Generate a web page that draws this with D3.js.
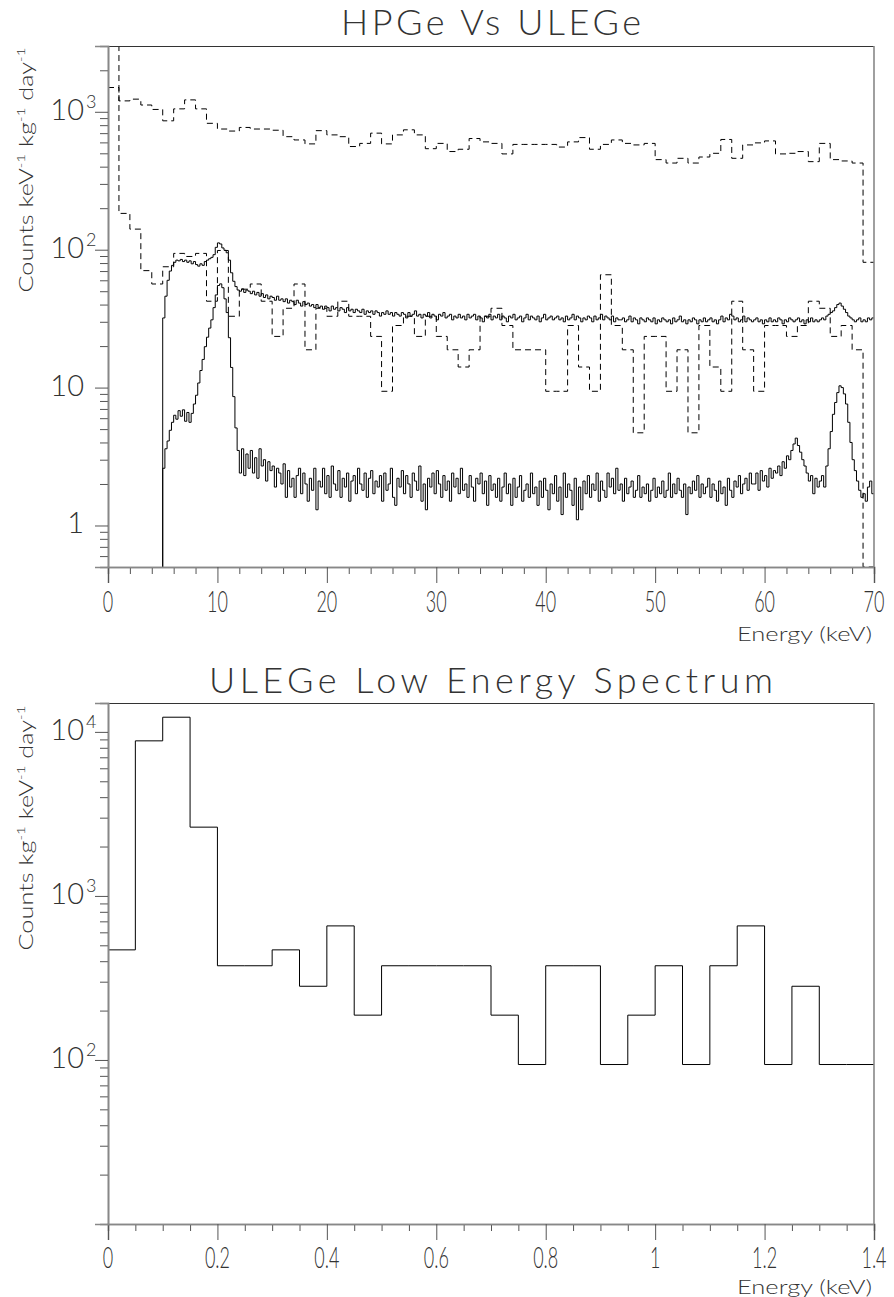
<!DOCTYPE html>
<html>
<head>
<meta charset="utf-8">
<script src="https://cdn.jsdelivr.net/npm/d3@7"></script>
<style>
  html, body { margin: 0; padding: 0; background: #fff; }
  svg { display: block; }
  text { font-family: "Lato", "DejaVu Sans", sans-serif; fill: #333; }
</style>
</head>
<body>
<svg id="chart" width="894" height="1297"></svg>
<script>
// ---------------- Data ----------------
// HPGe spectra, 1 keV bins starting at 0 keV (counts keV^-1 kg^-1 day^-1)
const coarseStart = 0, coarseWidth = 1;
const hpgeUpper = [
  1500, 1200, 1235, 1120, 1040, 860, 1050, 1220, 1050, 825,
  750, 725, 770, 750, 750, 735, 660, 625, 585, 730,
  680, 660, 560, 590, 700, 585, 680, 740, 680, 540,
  590, 515, 535, 640, 605, 590, 495, 580, 580, 580,
  580, 555, 605, 650, 535, 580, 625, 590, 575, 590,
  450, 425, 460, 425, 470, 500, 630, 460, 575, 595,
  615, 495, 500, 515, 435, 590, 450, 440, 425, 81
];
const hpgeLower = [
  5000, 183.3, 141, 70.5, 56.4, 75.2, 94, 89.3, 94, 42.3,
  98.7, 32.9, 51.7, 56.4, 42.3, 23.5, 37.6, 56.4, 18.8, 37.6,
  32.9, 42.3, 32.9, 32.9, 23.5, 9.4, 28.2, 32.9, 23.5, 32.9,
  23.5, 18.8, 14.1, 18.8, 32.9, 37.6, 28.2, 18.8, 18.8, 18.8,
  9.4, 9.4, 28.2, 14.1, 9.4, 65.8, 28.2, 18.8, 4.7, 23.5,
  23.5, 9.4, 18.8, 4.7, 28.2, 14.1, 9.4, 42.3, 18.8, 9.4,
  28.2, 28.2, 23.5, 28.2, 42.3, 37.6, 23.5, 28.2, 18.8, 0
];

// ULEGe spectra, 0.2 keV bins starting at 5 keV
const fineStart = 5, fineWidth = 0.2;
const ulegeUpper = [
  32, 46, 60, 70, 77, 81, 84, 83, 85, 82,
  84, 81, 83, 79, 82, 78, 76, 79, 77, 82,
  84, 86, 88, 92, 104, 112, 110, 103, 99, 95,
  84, 68, 59, 54, 51, 50, 52, 49, 51, 50,
  48, 50, 47, 49, 46, 48, 45, 47, 44, 46,
  45, 43, 46, 43, 44, 42, 44, 41, 43, 42,
  40, 43, 41, 39, 42, 40, 41, 39, 40, 38,
  40, 38, 39, 37, 39, 38, 36, 39, 37, 38,
  36, 38, 37, 35, 38, 36, 37, 35, 37, 36,
  35, 37, 34, 36, 35, 36, 34, 36, 35, 33,
  35, 34, 36, 34, 35, 33, 35, 34, 33, 35,
  34, 32, 35, 33, 34, 36, 33, 34, 32, 34,
  33, 35, 32, 34, 33, 31, 34, 33, 35, 32,
  33, 34, 31, 33, 32, 34, 32, 33, 31, 34,
  32, 33, 34, 31, 33, 32, 30, 33, 32, 34,
  31, 33, 32, 34, 31, 33, 32, 30, 33, 32,
  34, 31, 32, 33, 30, 32, 34, 31, 33, 32,
  31, 33, 30, 32, 34, 31, 32, 33, 31, 32,
  33, 31, 32, 30, 33, 31, 32, 34, 31, 33,
  32, 30, 32, 31, 33, 32, 30, 33, 31, 32,
  34, 31, 33, 32, 31, 33, 30, 32, 31, 31,
  32, 30, 31, 33, 30, 32, 31, 29, 32, 31,
  30, 32, 31, 30, 32, 29, 31, 30, 32, 31,
  30, 31, 29, 32, 30, 31, 33, 30, 31, 29,
  31, 30, 32, 31, 29, 31, 30, 32, 30, 31,
  32, 30, 31, 29, 31, 33, 30, 32, 31, 34,
  33, 31, 32, 30, 31, 33, 30, 32, 31, 30,
  31, 32, 30, 31, 29, 31, 30, 32, 30, 31,
  30, 32, 31, 29, 31, 30, 32, 31, 30, 31,
  32, 30, 31, 29, 31, 30, 32, 30, 31, 30,
  31, 32, 31, 33, 34, 35, 36, 38, 40, 41,
  39, 37, 35, 33, 32, 31, 30, 31, 32, 30,
  31, 30, 32, 31, 32
];
const ulegeLower = [
  2.6, 3.6, 4.1, 4.9, 5.6, 6.3, 5.9, 6.8, 6.2, 6.9,
  5.7, 6.6, 5.6, 6.5, 7.6, 8.8, 10.8, 13.3, 16.0, 19.8,
  23.2, 27, 31, 38, 47, 55, 56.5, 53, 44, 35,
  23, 14, 8.6, 5.1, 3.5, 2.4, 3.6, 2.3, 3.3, 2.6,
  3.5, 2.4, 3.1, 2.2, 3.6, 2.7, 3.0, 2.1, 2.9, 2.5,
  2.7, 1.9, 2.6, 2.4, 2.0, 2.8, 1.6, 2.5, 1.9, 2.2,
  1.6, 2.3, 2.6, 1.7, 2.4, 2.0, 1.5, 2.2, 1.8, 2.6,
  1.3, 2.1, 1.9, 2.6, 1.7, 2.3, 1.6, 2.7, 2.0, 1.8,
  2.5, 1.6, 2.2, 1.9, 2.4, 1.5, 2.1, 2.3, 1.7, 2.6,
  2.0, 1.8, 2.4, 1.6, 2.2, 2.5, 1.7, 2.1, 1.9, 2.3,
  1.5, 2.4, 1.8, 2.0, 2.6, 1.6, 1.4, 2.2, 1.9, 2.5,
  1.7, 2.3, 2.0, 1.6, 2.4, 2.1, 1.8, 2.7, 1.5, 2.0,
  1.3, 2.2, 1.9, 2.4, 1.7, 2.5, 2.0, 1.6, 2.3, 1.8,
  2.1, 1.5, 2.4, 1.9, 2.2, 1.7, 2.6, 1.8, 2.0, 1.6,
  2.3, 1.9, 1.5, 2.2, 2.0, 2.4, 1.7, 2.1, 1.4, 2.3,
  1.8, 2.0, 1.6, 2.2, 1.5, 1.9, 2.4, 1.7, 2.0, 1.4,
  2.2, 1.6, 1.9, 2.3, 1.5, 1.8, 2.0, 1.6, 2.4, 1.7,
  1.9, 1.4, 2.1, 1.6, 2.2, 1.8, 1.3, 2.0, 1.7, 2.3,
  1.5, 1.9, 1.2, 2.4, 1.6, 2.0, 1.8, 1.4, 2.2, 1.1,
  1.9, 1.3, 2.1, 1.7, 2.3, 1.6, 2.0, 1.8, 2.4, 1.5,
  2.1, 1.8, 1.6, 2.4, 1.9, 2.2, 1.7, 2.6, 1.8, 2.0,
  1.5, 2.2, 1.7, 1.9, 2.1, 1.6, 1.8, 2.3, 1.6, 1.9,
  1.7, 2.0, 1.5, 1.8, 2.2, 1.6, 1.9, 1.7, 2.1, 1.6,
  1.8, 2.4, 1.6, 2.0, 1.7, 2.2, 1.8, 1.6, 2.0, 1.2,
  1.9, 1.7, 2.1, 1.8, 2.3, 1.6, 2.0, 1.7, 1.9, 2.2,
  1.6, 2.0, 1.8, 1.5, 2.1, 1.7, 1.9, 1.4, 2.2, 1.8,
  1.6, 2.1, 1.9, 2.3, 1.7, 2.0, 2.2, 1.8, 2.4, 2.0,
  2.0, 2.4, 1.8, 2.5, 2.1, 2.3, 1.9, 2.6, 2.2, 2.5,
  2.4, 2.7, 2.3, 2.9, 2.6, 3.2, 3.0, 3.5, 3.9, 4.3,
  3.8, 3.4, 3.0, 2.7, 2.4, 2.1, 2.3, 1.7, 2.2, 1.9,
  2.1, 2.3, 1.9, 2.7, 3.6, 4.8, 6.4, 7.8, 9.2, 10.3,
  10.0, 9.0, 7.6, 5.6, 4.0, 3.0, 2.5, 2.1, 1.8, 1.6,
  1.7, 1.5, 1.9, 2.1, 1.7
];

// ULEGe low energy spectrum, 0.05 keV bins starting at 0 keV
const lowStart = 0, lowWidth = 0.05;
const lowEnergyCounts = [
  469, 8817, 12288, 2626, 375.2, 375.2, 469, 281.4, 656.6, 187.6,
  375.2, 375.2, 375.2, 375.2, 187.6, 93.8, 375.2, 375.2, 93.8, 187.6,
  375.2, 93.8, 375.2, 656.6, 93.8, 281.4, 93.8, 93.8
];

// Tick values and labels
const topXMajor = [0, 10, 20, 30, 40, 50, 60, 70];
const topXLabels = ["0", "10", "20", "30", "40", "50", "60", "70"];
const topYMajor = [1, 10, 100, 1000];
const topYBase = ["1", "10", "10", "10"];
const topYExp = ["", "", "2", "3"];
const botXMajor = [0, 0.2, 0.4, 0.6, 0.8, 1.0, 1.2, 1.4];
const botXLabels = ["0", "0.2", "0.4", "0.6", "0.8", "1", "1.2", "1.4"];
const botYMajor = [100, 1000, 10000];
const botYBase = ["10", "10", "10"];
const botYExp = ["2", "3", "4"];

// ---------------- Drawing ----------------
const svg = d3.select("#chart");
const L = 108, R = 874;

function logMinors(lo, hi) {
  const out = [];
  for (let e = Math.floor(Math.log10(lo)); e <= Math.ceil(Math.log10(hi)); e++) {
    for (let m = 2; m <= 9; m++) {
      const v = m * Math.pow(10, e);
      if (v > lo * 1.0001 && v < hi * 0.9999) out.push(v);
    }
  }
  return out;
}

function stepPath(x, y, start, width, values, fromBase) {
  const pts = [];
  if (fromBase) pts.push([start, y.domain()[0]]);
  values.forEach((v, i) => pts.push([start + i * width, v]));
  pts.push([start + values.length * width, values[values.length - 1]]);
  return d3.line()
    .x(d => x(d[0]))
    .y(d => y(d[1]))
    .curve(d3.curveStepAfter)(pts);
}

function drawPanel(cfg) {
  const { id, top, bottom, x, y } = cfg;
  const g = svg.append("g");

  g.append("clipPath").attr("id", id + "-clip")
    .append("rect").attr("x", L).attr("y", top)
    .attr("width", R - L).attr("height", bottom - top);

  const plot = g.append("g").attr("clip-path", `url(#${id}-clip)`);
  cfg.series.forEach(s => {
    plot.append("path")
      .attr("d", stepPath(x, y, s.start, s.width, s.values, s.fromBase))
      .attr("fill", "none")
      .attr("stroke", "#000")
      .attr("stroke-width", 1)
      .attr("stroke-dasharray", s.dashed ? "6,4" : null);
  });

  // Frame
  g.append("line").attr("x1", L).attr("x2", R).attr("y1", top + 0.5).attr("y2", top + 0.5)
    .attr("stroke", "#333").attr("stroke-width", 1);
  g.append("line").attr("x1", R).attr("x2", R).attr("y1", top).attr("y2", bottom)
    .attr("stroke", "#888").attr("stroke-width", 1.6);

  // X axis
  const xMinor = d3.axisBottom(x).tickValues(cfg.xMinor).tickSize(7).tickFormat("");
  const xMajor = d3.axisBottom(x).tickValues(cfg.xMajor).tickSize(16).tickFormat("");
  [xMinor, xMajor].forEach(ax => {
    const a = g.append("g").attr("transform", `translate(0,${bottom})`).call(ax);
    a.select(".domain").attr("stroke", "#888").attr("stroke-width", 1.6);
    a.selectAll(".tick line").attr("stroke", "#555");
  });
  cfg.xMajor.forEach((v, i) => {
    g.append("text")
      .attr("transform", `translate(${x(v)},${cfg.xLabelY}) scale(0.62,1)`)
      .attr("text-anchor", "middle")
      .attr("font-size", 29).attr("font-weight", 300)
      .text(cfg.xLabels[i]);
  });
  g.append("text")
    .attr("x", 872).attr("y", cfg.xTitleY)
    .attr("text-anchor", "end")
    .attr("font-size", 20).attr("font-weight", 300)
    .attr("textLength", 135).attr("lengthAdjust", "spacingAndGlyphs")
    .text("Energy (keV)");

  // Y axis
  const yMinor = d3.axisLeft(y).tickValues(cfg.yMinor).tickSize(8).tickFormat("");
  const yMajor = d3.axisLeft(y).tickValues(cfg.yMajor).tickSize(13).tickFormat("");
  [yMinor, yMajor].forEach(ax => {
    const a = g.append("g").attr("transform", `translate(${L},0)`).call(ax);
    a.select(".domain").attr("stroke", "#888").attr("stroke-width", 1.6);
    a.selectAll(".tick line").attr("stroke", "#555");
  });
  cfg.yMajor.forEach((v, i) => {
    const ty = y(v);
    g.append("text")
      .attr("x", 84).attr("y", ty + 8)
      .attr("text-anchor", "end")
      .attr("font-size", 29).attr("font-weight", 300)
      .text(cfg.yBase[i]);
    if (cfg.yExp[i]) {
      g.append("text")
        .attr("x", 86).attr("y", ty - 4)
        .attr("text-anchor", "start")
        .attr("font-size", 18).attr("font-weight", 300)
        .text(cfg.yExp[i]);
    }
  });

  // Y title with superscripts
  const yt = g.append("text")
    .attr("transform", `translate(33,${cfg.yTitleMid}) rotate(-90)`)
    .attr("text-anchor", "middle")
    .attr("font-size", 20).attr("font-weight", 300)
    .attr("textLength", 245).attr("lengthAdjust", "spacingAndGlyphs");
  cfg.yTitle.forEach(part => {
    if (part.sup) {
      yt.append("tspan").attr("font-size", 12).attr("dy", -8).text(part.t);
      yt.append("tspan").attr("dy", 8).text(" ");
    } else {
      yt.append("tspan").text(part.t);
    }
  });

  // Panel title
  g.append("text")
    .attr("x", (L + R) / 2).attr("y", cfg.titleY)
    .attr("text-anchor", "middle")
    .attr("font-size", 36).attr("font-weight", 300)
    .attr("fill", "#444")
    .attr("textLength", cfg.titleLength).attr("lengthAdjust", "spacing")
    .text(cfg.title);
}

// Upper panel: HPGe vs ULEGe
const xTop = d3.scaleLinear().domain([0, 70]).range([L, R]);
const yTop = d3.scaleLog().domain([0.5, 3000]).range([567, 46]).clamp(true);
drawPanel({
  id: "top", top: 46, bottom: 567, x: xTop, y: yTop,
  series: [
    { start: coarseStart, width: coarseWidth, values: hpgeUpper, dashed: true },
    { start: coarseStart, width: coarseWidth, values: hpgeLower, dashed: true },
    { start: fineStart, width: fineWidth, values: ulegeUpper, fromBase: true },
    { start: fineStart, width: fineWidth, values: ulegeLower, fromBase: true }
  ],
  xMajor: topXMajor, xLabels: topXLabels,
  xMinor: d3.range(0, 70.001, 2).filter(v => v % 10 !== 0),
  yMajor: topYMajor, yBase: topYBase, yExp: topYExp,
  yMinor: logMinors(0.5, 3000),
  xLabelY: 612, xTitleY: 641,
  yTitleMid: 170,
  yTitle: [{ t: "Counts keV" }, { t: "-1", sup: true }, { t: "kg" }, { t: "-1", sup: true }, { t: "day" }, { t: "-1", sup: true }],
  title: "HPGe Vs ULEGe", titleLength: 300, titleY: 35
});

// Lower panel: ULEGe low energy spectrum
const xBot = d3.scaleLinear().domain([0, 1.4]).range([L, R]);
const yBot = d3.scaleLog().domain([10, 15000]).range([1224, 703]).clamp(true);
drawPanel({
  id: "bot", top: 703, bottom: 1224, x: xBot, y: yBot,
  series: [
    { start: lowStart, width: lowWidth, values: lowEnergyCounts, fromBase: true }
  ],
  xMajor: botXMajor, xLabels: botXLabels,
  xMinor: d3.range(0, 1.4001, 0.05).filter((v, i) => i % 4 !== 0),
  yMajor: botYMajor, yBase: botYBase, yExp: botYExp,
  yMinor: logMinors(10, 15000),
  xLabelY: 1268, xTitleY: 1294,
  yTitleMid: 828,
  yTitle: [{ t: "Counts kg" }, { t: "-1", sup: true }, { t: "keV" }, { t: "-1", sup: true }, { t: "day" }, { t: "-1", sup: true }],
  title: "ULEGe Low Energy Spectrum", titleLength: 564, titleY: 693
});
</script>
</body>
</html>
